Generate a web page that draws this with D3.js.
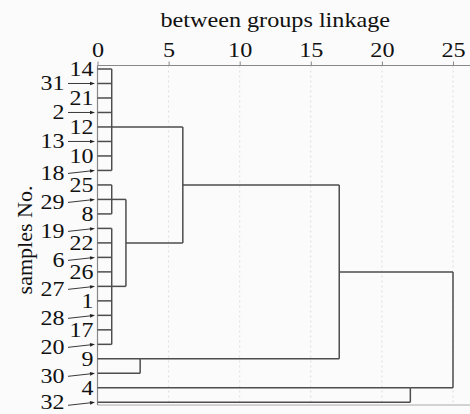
<!DOCTYPE html>
<html><head><meta charset="utf-8">
<script src="https://cdn.jsdelivr.net/npm/d3@7/dist/d3.min.js"></script>
<style>
html,body{margin:0;padding:0;background:#fbfbfb;}
svg{display:block;}
text{font-family:"Liberation Serif","Times New Roman",serif;fill:#111;}
</style></head>
<body>
<svg id="chart" width="470" height="414"></svg>
<script>
// Leaf order (top to bottom)
const leaves = ["14","31","21","2","12","13","10","18","25","29","8","19","22","6","26","27","1","28","17","20","9","30","4","32"];
// First-level clusters: members, joining distance, leaf at which the cluster line leaves
const groupNames   = ["A","B","C","D","E"];
const groupMembers = [
  ["14","31","21","2","12","13","10","18"],
  ["25","29","8"],
  ["19","22","6","26","27","1","28","17","20"],
  ["9","30"],
  ["4","32"]
];
const groupHeights = [1.0, 1.0, 1.0, 3.0, 22.0];
const groupJoinLeaf = ["12","29","27","9","4"];
// Higher merges
const mergeNames   = ["BC","ABC","ABCD","ROOT"];
const mergeLeft    = ["B","A","ABC","ABCD"];
const mergeRight   = ["C","BC","D","E"];
const mergeHeights = [2.0, 6.0, 17.0, 25.0];
const xTicks = [0,5,10,15,20,25];
const xTitle = "between groups linkage";
const yTitle = "samples No.";

const svg = d3.select("#chart");
const x = d3.scaleLinear().domain([0,25]).range([97.5,453]);
const y = d3.scalePoint().domain(leaves).range([69,402.3]);
const plotTop = 65.5, plotBottom = 405, plotRight = 470;

// stretched text helper
function stext(parent, tx, ty, str, size, sx, anchor, rot){
  const g = parent.append("g").attr("transform",`translate(${tx},${ty})${rot?` rotate(${rot})`:""} scale(${sx},1)`);
  return g.append("text").attr("x",0).attr("y",0).attr("text-anchor",anchor).attr("font-size",size).text(str);
}

// grid
svg.append("g").selectAll("line").data(xTicks.slice(1)).join("line")
  .attr("x1",d=>x(d)).attr("x2",d=>x(d)).attr("y1",plotTop).attr("y2",plotBottom)
  .attr("stroke","#d6d6d6").attr("stroke-width",0.8).attr("stroke-dasharray","2,3");

// frame lines
svg.append("line").attr("x1",x(0)).attr("x2",plotRight).attr("y1",plotBottom).attr("y2",plotBottom)
  .attr("stroke","#aaa").attr("stroke-width",1);
svg.append("line").attr("x1",x(0)).attr("x2",x(0)).attr("y1",plotTop).attr("y2",plotBottom)
  .attr("stroke","#888").attr("stroke-width",1.2);

// top axis
const axis = d3.axisTop(x).tickValues(xTicks).tickSize(4).tickSizeOuter(0).tickFormat("");
const ag = svg.append("g").attr("transform",`translate(0,${plotTop})`).call(axis);
ag.select(".domain").remove();
ag.append("line").attr("x1",x(0)).attr("x2",plotRight).attr("y1",0).attr("y2",0).attr("stroke","#888").attr("stroke-width",1.2);
ag.selectAll(".tick line").attr("stroke","#888");
xTicks.forEach(t=>stext(svg, x(t)+0.5, 57, String(t), 22, 1.1, "middle"));

stext(svg, (x(0)+x(25))/2, 27, xTitle, 22, 1.1, "middle");
stext(svg, 32, 240, yTitle, 22, 1.0, "middle", -90);

// dendrogram
const lineCol = "#4d4d4d", lw = 1.5;
const dg = svg.append("g").attr("stroke",lineCol).attr("stroke-width",lw).attr("fill","none");
const out = {};
groupNames.forEach((g,i)=>{
  const h = groupHeights[i];
  groupMembers[i].forEach(m=>{
    dg.append("line").attr("x1",x(0)).attr("x2",x(h)).attr("y1",y(m)).attr("y2",y(m));
  });
  const ys = groupMembers[i].map(m=>y(m));
  dg.append("line").attr("x1",x(h)).attr("x2",x(h)).attr("y1",d3.min(ys)).attr("y2",d3.max(ys));
  out[g] = {h:h, y:y(groupJoinLeaf[i])};
});
mergeNames.forEach((m,i)=>{
  const h = mergeHeights[i];
  const a = out[mergeLeft[i]], b = out[mergeRight[i]];
  [a,b].forEach(c=>{
    dg.append("line").attr("x1",x(c.h)).attr("x2",x(h)).attr("y1",c.y).attr("y2",c.y);
  });
  dg.append("line").attr("x1",x(h)).attr("x2",x(h)).attr("y1",a.y).attr("y2",b.y);
  out[m] = {h:h, y:(a.y+b.y)/2};
});

// leaf labels
const lg = svg.append("g");
leaves.forEach((lab,i)=>{
  const yy = y(lab);
  if(i%2===0){
    stext(lg, 93.5, yy+7, lab, 20.5, 1.17, "end");
  } else {
    const off = i===leaves.length-1 ? -0.5 : (i>5 ? 2.2 : 0);
    const ly = yy + off;
    stext(lg, 64.5, ly+7, lab, 20.5, 1.17, "end");
    const x1 = 68, x2 = 95;
    const sy = yy + (i>5 ? 3 : 0);
    const ang = Math.atan2(yy-sy, x2-x1);
    const bx = x2-5*Math.cos(ang), by = yy-5*Math.sin(ang);
    lg.append("line").attr("x1",x1).attr("y1",sy).attr("x2",bx).attr("y2",by)
      .attr("stroke","#222").attr("stroke-width",0.9);
    const nx = -Math.sin(ang)*1.8, ny = Math.cos(ang)*1.8;
    const p = d3.path();
    p.moveTo(x2,yy); p.lineTo(bx+nx,by+ny); p.lineTo(bx-nx,by-ny); p.closePath();
    lg.append("path").attr("d",p.toString()).attr("fill","#222");
  }
});
</script>
</body></html>
